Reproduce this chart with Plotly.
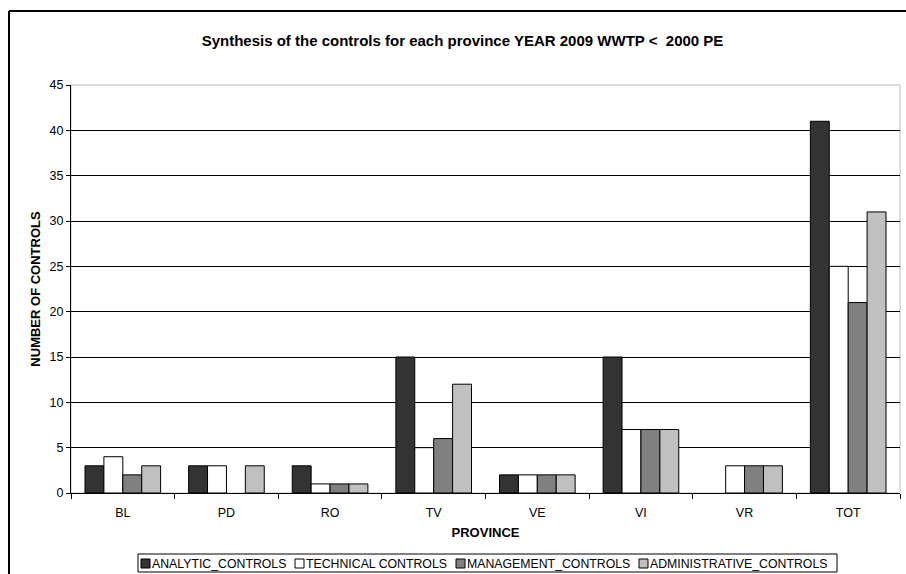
import plotly.graph_objects as go

provinces = ["BL", "PD", "RO", "TV", "VE", "VI", "VR", "TOT"]
analytic_controls = [3, 3, 3, 15, 2, 15, 0, 41]
technical_controls = [4, 3, 1, 5, 2, 7, 3, 25]
management_controls = [2, 0, 1, 6, 2, 7, 3, 21]
administrative_controls = [3, 3, 1, 12, 2, 7, 3, 31]

series_names = ["ANALYTIC_CONTROLS", "TECHNICAL CONTROLS",
                "MANAGEMENT_CONTROLS", "ADMINISTRATIVE_CONTROLS"]
series_values = [analytic_controls, technical_controls,
                 management_controls, administrative_controls]
series_colors = ["#333333", "#FFFFFF", "#808080", "#C0C0C0"]

FONT = "Arial, Liberation Sans, sans-serif"

fig = go.Figure()
for name, vals, color in zip(series_names, series_values, series_colors):
    fig.add_trace(go.Bar(
        x=provinces, y=vals, name=name, showlegend=False,
        marker=dict(
            color=color,
            # empty bars get no outline
            line=dict(color="#000000", width=[1 if v else 0 for v in vals]),
        ),
    ))

W, H = 906, 574
L, R, T, B = 71, 6, 85, 81
pw, ph = W - L - R, H - T - B


def px_x(p):
    return (p - L) / pw


def px_y(p):
    return (H - B - p) / ph


shapes = [
    # plot-area frame (light grey on top and right)
    dict(type="rect", xref="paper", yref="paper", x0=0, x1=1, y0=0, y1=1,
         line=dict(color="#BBBBBB", width=1), layer="below"),
    # outer chart frame: left and top edges
    dict(type="line", xref="paper", yref="paper",
         x0=px_x(9), x1=px_x(9), y0=px_y(H + 5), y1=px_y(11),
         line=dict(color="#000000", width=2)),
    dict(type="line", xref="paper", yref="paper",
         x0=px_x(9), x1=px_x(W + 5), y0=px_y(11), y1=px_y(11),
         line=dict(color="#000000", width=2)),
    # legend box
    dict(type="rect", xref="paper", yref="paper",
         x0=px_x(138), x1=px_x(837), y0=px_y(572), y1=px_y(554),
         line=dict(color="#000000", width=1), fillcolor="white"),
]
annotations = []

# legend row: swatch + label for each series
legend_swatch_left = [141, 295, 456, 639]
legend_font = dict(family=FONT, size=12.3, color="#000000")
for name, color, sx in zip(series_names, series_colors, legend_swatch_left):
    shapes.append(dict(
        type="rect", xref="paper", yref="paper",
        x0=px_x(sx), x1=px_x(sx + 9), y0=px_y(568), y1=px_y(559),
        fillcolor=color, line=dict(color="#000000", width=1),
    ))
    annotations.append(dict(
        text=name, xref="paper", yref="paper",
        x=px_x(sx + 11), y=px_y(563.5), xanchor="left", yanchor="middle",
        showarrow=False, font=legend_font, borderpad=0, borderwidth=0,
    ))

fig.update_layout(
    width=W, height=H,
    margin=dict(l=L, r=R, t=T, b=B),
    paper_bgcolor="white", plot_bgcolor="white",
    barmode="group", bargap=0.27, bargroupgap=0,
    font=dict(family=FONT, size=12.5, color="#000000"),
    title=dict(
        text="<b>Synthesis of the controls for each province YEAR 2009 WWTP &lt;  2000 PE</b>",
        x=px_x(462.5), xanchor="center", xref="paper",
        y=1 - 41 / H, yanchor="middle",
        font=dict(family=FONT, size=15),
    ),
    xaxis=dict(
        type="category", showgrid=False,
        showline=True, linecolor="#000000", linewidth=1,
        ticks="outside", tickson="boundaries", ticklen=5, tickcolor="#000000",
        tickfont=dict(size=12.5), ticklabelstandoff=8,
        title=dict(text="<b>PROVINCE</b>", font=dict(size=13), standoff=8),
    ),
    yaxis=dict(
        range=[0, 45], dtick=5,
        showgrid=True, gridcolor="#000000", gridwidth=1,
        showline=True, linecolor="#000000", linewidth=1,
        ticks="outside", ticklen=4, tickcolor="#000000",
        tickfont=dict(size=12.5), ticklabelstandoff=0,
        zeroline=False,
        title=dict(text="<b>NUMBER OF CONTROLS</b>", font=dict(size=13), standoff=6),
    ),
    annotations=annotations,
    shapes=shapes,
)

fig.write_html("out.html")
